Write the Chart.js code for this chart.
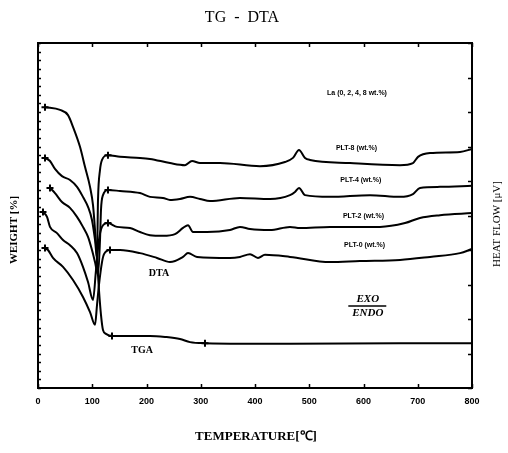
<!DOCTYPE html>
<html>
<head>
<meta charset="utf-8">
<title>TG - DTA</title>
<script src="https://cdn.jsdelivr.net/npm/chart.js@4.4.1/dist/chart.umd.min.js"></script>
<style>
  html, body { margin: 0; padding: 0; background: #fff; }
  #wrap { width: 508px; height: 453px; }
</style>
</head>
<body>
<div id="wrap"><canvas id="tgChart" width="508" height="453"></canvas></div>
<script>
// temperatures (deg C) and readings
const tgaTemps = [12.9, 40.6, 55.3, 64.5, 77.4, 86.6, 95.9, 101.4, 105.1, 108.8, 112.4, 116.1, 119.8, 125.3, 136.4, 206.4, 234.1, 261.7, 280.2, 307.8, 464.5, 667.3, 800];
const tgaWeight = [81.4, 80.6, 79.1, 75.7, 69.9, 64.1, 58.3, 53.0, 45.8, 37.1, 28.4, 21.2, 16.8, 15.7, 15.1, 15.1, 14.8, 14.2, 13.3, 13.0, 12.8, 13.0, 13.0];

const plt8Temps = [12.9, 22.1, 31.3, 44.2, 59.0, 71.9, 82.9, 92.2, 99.5, 105.1, 108.8, 110.6, 114.3, 118.0, 129.0, 151.2, 188.0, 206.4, 243.3, 271.0, 283.9, 298.6, 335.5, 409.2, 455.3, 470.0, 481.1, 492.2, 501.4, 575.1, 667.3, 691.2, 700.5, 722.6, 777.9, 800];
const plt8Heat = [66.7, 65.8, 63.5, 61.4, 60.3, 58.3, 55.4, 52.5, 48.7, 42.9, 37.7, 54.5, 63.2, 66.1, 67.5, 67.0, 66.7, 66.4, 65.2, 64.6, 65.8, 65.2, 65.2, 64.3, 65.5, 66.7, 69.0, 66.7, 66.1, 65.2, 64.6, 65.2, 67.0, 68.1, 68.4, 69.3];

const plt4Temps = [22.1, 31.3, 44.2, 59.0, 71.9, 82.9, 92.2, 99.5, 105.1, 110.6, 114.3, 116.1, 119.8, 129.0, 151.2, 188.0, 206.4, 230.4, 243.3, 261.7, 280.2, 298.6, 317.0, 372.3, 427.6, 464.5, 473.7, 481.1, 492.2, 538.2, 612.0, 667.3, 691.2, 704.1, 741.0, 800];
const plt4Heat = [58.0, 56.5, 53.9, 52.2, 49.6, 46.7, 43.8, 40.0, 36.5, 32.8, 42.9, 51.6, 55.9, 57.4, 57.1, 56.5, 55.4, 55.1, 54.5, 54.8, 55.4, 54.8, 54.2, 55.1, 54.8, 55.9, 56.8, 58.0, 55.9, 55.4, 55.9, 55.4, 56.2, 58.0, 58.3, 58.6];

const plt2Temps = [9.2, 16.6, 22.1, 35.0, 46.1, 59.0, 71.9, 82.9, 92.2, 101.4, 106.9, 112.4, 118.0, 129.0, 145.6, 169.6, 188.0, 206.4, 230.4, 252.5, 267.3, 276.5, 285.7, 311.5, 353.9, 372.3, 390.8, 427.6, 464.5, 483.0, 538.2, 630.4, 676.5, 704.1, 741.0, 800];
const plt2Heat = [51.0, 49.6, 46.7, 44.9, 42.9, 41.4, 39.1, 35.1, 30.7, 25.5, 34.2, 42.9, 46.7, 47.8, 46.7, 46.4, 45.2, 44.3, 44.1, 44.6, 46.4, 47.2, 45.2, 45.2, 45.8, 46.7, 46.1, 45.8, 46.7, 46.4, 46.7, 46.7, 47.8, 49.3, 50.1, 50.7];

const plt0Temps = [12.9, 18.4, 27.6, 46.1, 64.5, 82.9, 95.9, 105.1, 108.8, 112.4, 118.0, 121.7, 132.7, 151.2, 188.0, 219.4, 243.3, 267.3, 276.5, 293.1, 353.9, 372.3, 390.8, 405.5, 418.4, 464.5, 538.2, 593.5, 667.3, 722.6, 777.9, 800];
const plt0Heat = [40.6, 40.0, 37.7, 35.1, 31.3, 26.4, 22.0, 18.3, 24.1, 29.9, 36.5, 38.8, 40.0, 40.0, 39.1, 37.7, 36.5, 38.0, 39.1, 38.0, 37.7, 38.0, 38.8, 37.7, 38.6, 38.0, 36.5, 36.8, 37.1, 38.0, 39.1, 40.3];

// temperatures where the "+" marks sit on each curve
const tgaMarks = [12.9, 136.4, 307.8];
const plt8Marks = [12.9, 129.0];
const plt4Marks = [22.1, 129.0];
const plt2Marks = [9.2, 129.0];
const plt0Marks = [12.9, 132.7];

const xTickLabels = ['0', '100', '200', '300', '400', '500', '600', '700', '800'];

function toPoints(xs, ys) {
  return xs.map((x, i) => ({ x: x, y: ys[i] }));
}

function lineSet(label, xs, ys, marks) {
  return {
    label: label,
    data: toPoints(xs, ys),
    borderColor: '#000',
    borderWidth: 2,
    cubicInterpolationMode: 'monotone',
    pointStyle: 'cross',
    pointRadius: ctx => (ctx.raw && marks.includes(ctx.raw.x)) ? 3.5 : 0,
    pointBorderColor: '#000',
    pointBorderWidth: 2,
    yAxisID: label === 'TGA' ? 'y' : 'y2'
  };
}

// inward tick marks and plot frame
const framePlugin = {
  id: 'frame',
  afterDraw(chart) {
    const { ctx, chartArea: a, scales } = chart;
    ctx.save();
    ctx.strokeStyle = '#000';
    ctx.lineWidth = 1.5;
    ctx.beginPath();
    scales.x.ticks.forEach(t => {
      const px = Math.round(scales.x.getPixelForValue(t.value)) + 0.5;
      ctx.moveTo(px, a.bottom); ctx.lineTo(px, a.bottom - 4);
      ctx.moveTo(px, a.top); ctx.lineTo(px, a.top + 4);
    });
    scales.y.ticks.forEach(t => {
      const py = Math.round(scales.y.getPixelForValue(t.value)) + 0.5;
      ctx.moveTo(a.left, py); ctx.lineTo(a.left + 3, py);
    });
    scales.y2.ticks.forEach(t => {
      const py = Math.round(scales.y2.getPixelForValue(t.value)) + 0.5;
      ctx.moveTo(a.right, py); ctx.lineTo(a.right - 4, py);
    });
    ctx.stroke();
    ctx.lineWidth = 2;
    ctx.strokeRect(a.left, a.top, a.right - a.left, a.bottom - a.top);
    ctx.restore();
  }
};

// titles and in-plot notes
const textPlugin = {
  id: 'notes',
  afterDraw(chart) {
    const { ctx, scales } = chart;
    const X = v => scales.x.getPixelForValue(v);
    const Y = v => scales.y2.getPixelForValue(v);
    ctx.save();
    ctx.fillStyle = '#000';
    ctx.textAlign = 'center';
    ctx.textBaseline = 'middle';

    ctx.font = '16px "Liberation Serif"';
    ctx.fillText('TG  -  DTA', 242, 18);

    ctx.font = 'bold 13px "Liberation Serif"';
    ctx.fillText('TEMPERATURE[\u2103]', 256, 437);

    ctx.save();
    ctx.translate(14, 230);
    ctx.rotate(-Math.PI / 2);
    ctx.font = 'bold 11px "Liberation Serif"';
    ctx.fillText('WEIGHT [%]', 0, 0);
    ctx.restore();

    ctx.save();
    ctx.translate(497, 224);
    ctx.rotate(-Math.PI / 2);
    ctx.font = '11px "Liberation Serif"';
    ctx.fillText('HEAT FLOW [\u03bcV]', 0, 0);
    ctx.restore();

    ctx.font = 'bold 7px "Liberation Sans"';
    ctx.fillText('La (0, 2, 4, 8 wt.%)', X(588), Y(85.5));
    ctx.fillText('PLT-8 (wt.%)', X(587), Y(69.6));
    ctx.fillText('PLT-4 (wt.%)', X(595), Y(60.3));
    ctx.fillText('PLT-2 (wt.%)', X(600), Y(49.9));
    ctx.fillText('PLT-0 (wt.%)', X(602), Y(41.4));

    ctx.font = 'bold 10px "Liberation Serif"';
    ctx.fillText('DTA', X(223), Y(33.3));
    ctx.fillText('TGA', X(192), Y(11.0));

    ctx.font = 'italic bold 11px "Liberation Serif"';
    ctx.fillText('EXO', X(608), Y(25.8));
    ctx.fillText('ENDO', X(608), Y(21.7));
    ctx.lineWidth = 1.5;
    ctx.beginPath();
    ctx.moveTo(X(572), Y(23.8));
    ctx.lineTo(X(642), Y(23.8));
    ctx.stroke();
    ctx.restore();
  }
};

new Chart(document.getElementById('tgChart').getContext('2d'), {
  type: 'line',
  data: {
    datasets: [
      lineSet('TGA', tgaTemps, tgaWeight, tgaMarks),
      lineSet('PLT-8', plt8Temps, plt8Heat, plt8Marks),
      lineSet('PLT-4', plt4Temps, plt4Heat, plt4Marks),
      lineSet('PLT-2', plt2Temps, plt2Heat, plt2Marks),
      lineSet('PLT-0', plt0Temps, plt0Heat, plt0Marks)
    ]
  },
  options: {
    responsive: false,
    animation: false,
    layout: { padding: { top: 43, left: 0, right: 0, bottom: 0 } },
    plugins: {
      legend: { display: false },
      tooltip: { enabled: false },
      title: { display: false }
    },
    scales: {
      x: {
        type: 'linear',
        min: 0, max: 800,
        grid: { display: false, drawTicks: false },
        border: { display: false },
        ticks: {
          stepSize: 100,
          padding: 8,
          color: '#000',
          font: { family: '"Liberation Sans"', size: 9, weight: 'bold' },
          maxRotation: 0,
          callback: (v, i) => xTickLabels[i]
        },
        afterFit: s => { s.height = 65; }
      },
      y: {
        position: 'left',
        min: 0, max: 100,
        grid: { display: false, drawTicks: false },
        border: { display: false },
        ticks: { stepSize: 2.5, display: false },
        afterFit: s => { s.width = 38; }
      },
      y2: {
        position: 'right',
        min: 0, max: 100,
        grid: { display: false, drawTicks: false },
        border: { display: false },
        ticks: { stepSize: 10, display: false },
        afterFit: s => { s.width = 36; }
      }
    }
  },
  plugins: [framePlugin, textPlugin]
});
</script>
</body>
</html>
